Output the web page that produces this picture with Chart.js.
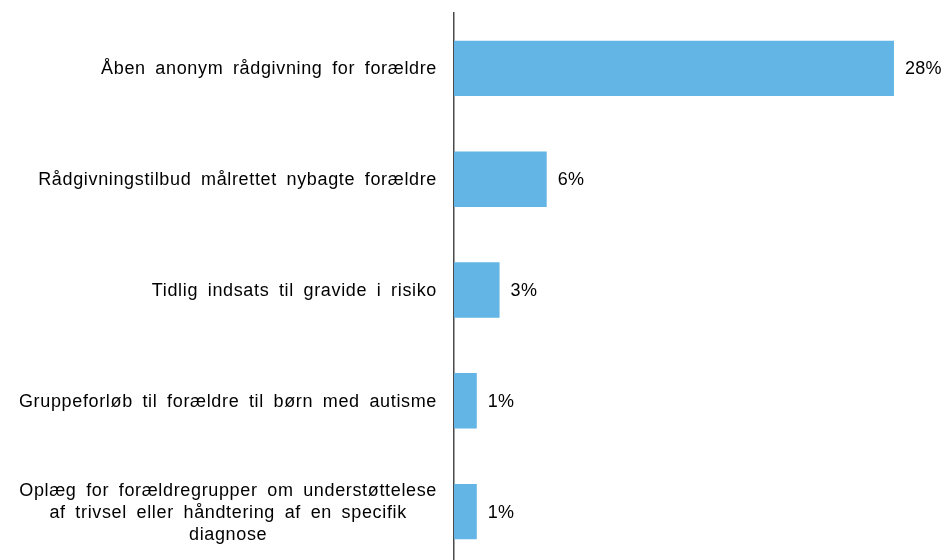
<!DOCTYPE html>
<html>
<head>
<meta charset="utf-8">
<script src="https://cdn.jsdelivr.net/npm/chart.js@4/dist/chart.umd.min.js"></script>
<style>
  html, body { margin: 0; padding: 0; background: #fff; overflow: hidden; }
  #wrap { width: 944px; height: 568px; position: relative; }
</style>
</head>
<body>
<div id="wrap"><canvas id="chart"></canvas></div>
<script>
// categories (top to bottom), share of answers, and the printed value labels
const categories = [
  'Åben anonym rådgivning for forældre',
  'Rådgivningstilbud målrettet nybagte forældre',
  'Tidlig indsats til gravide i risiko',
  'Gruppeforløb til forældre til børn med autisme',
  ['Oplæg for forældregrupper om understøttelese', 'af trivsel eller håndtering af en specifik', 'diagnose']
];
const shares = [28, 5.9, 2.9, 1.45, 1.45];
const shareLabels = ['28%', '6%', '3%', '1%', '1%'];

const FONT = '18px "Liberation Sans", Arial, sans-serif';

// draws the category names (multi-line ones centred on each other) and the % labels
const labelPlugin = {
  id: 'labels',
  afterDraw(chart) {
    const ctx = chart.ctx;
    const yScale = chart.scales.y;
    const right = yScale.right - 17;
    ctx.save();
    ctx.font = FONT;
    ctx.letterSpacing = '0.65px';
    ctx.wordSpacing = '4px';
    ctx.fillStyle = '#000';
    ctx.textBaseline = 'middle';
    ctx.textAlign = 'center';
    categories.forEach((cat, i) => {
      const lines = Array.isArray(cat) ? cat : [cat];
      const maxW = Math.max(...lines.map(l => ctx.measureText(l).width));
      const cx = right - maxW / 2;
      const lh = 22;
      const y0 = yScale.getPixelForTick(i) + 1 - (lines.length - 1) * lh / 2;
      lines.forEach((l, j) => ctx.fillText(l, cx, y0 + j * lh));
    });
    ctx.letterSpacing = '0.3px';
    ctx.wordSpacing = '0px';
    ctx.textAlign = 'left';
    chart.getDatasetMeta(0).data.forEach((bar, i) => {
      ctx.fillText(shareLabels[i], bar.x + 11, bar.y + 1);
    });
    ctx.restore();
  }
};

new Chart(document.getElementById('chart'), {
  type: 'bar',
  data: {
    labels: categories,
    datasets: [{
      data: shares,
      backgroundColor: '#63B5E5',
      barPercentage: 0.5,
      categoryPercentage: 1
    }]
  },
  options: {
    indexAxis: 'y',
    responsive: true,
    maintainAspectRatio: false,
    animation: false,
    layout: { padding: { top: 13, bottom: 1, left: 0, right: 18.6 } },
    plugins: {
      legend: { display: false },
      tooltip: { enabled: false }
    },
    scales: {
      x: {
        display: false,
        min: 0,
        max: 30
      },
      y: {
        z: 1,
        grid: { display: false },
        border: { display: true, color: '#4a4a4a', width: 1.5 },
        ticks: { display: false },
        afterFit(scale) { scale.width = 454; }
      }
    }
  },
  plugins: [labelPlugin]
});
</script>
</body>
</html>
